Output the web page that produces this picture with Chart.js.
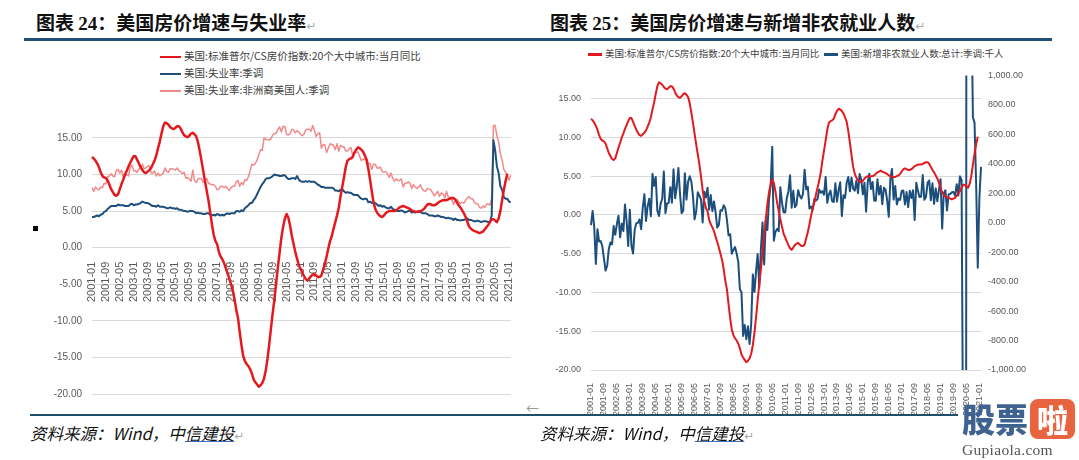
<!DOCTYPE html>
<html>
<head>
<meta charset="utf-8">
<script src="https://cdn.jsdelivr.net/npm/chart.js"></script>
<style>
  body { margin: 0; width: 1079px; height: 460px; background: #fff; position: relative; overflow: hidden; font-family: "Noto Sans CJK SC", sans-serif; }
  .abs { position: absolute; white-space: nowrap; }
  .title { top: 9px; font-size: 19px; font-weight: 700; color: #111; line-height: 26px; }
  .title .n { font-family: "Liberation Serif", serif; }
  .ret { color: #aaa; font-weight: 400; font-size: 12px; font-family: "DejaVu Sans", sans-serif; }
  .rule { position: absolute; }
  .leg { color: #404040; line-height: 14px; }
  .leg i { display: inline-block; height: 2.5px; vertical-align: middle; margin-right: 3px; }
  .src { top: 421px; font-style: italic; font-size: 16.5px; color: #111; line-height: 24px; }
  .src u { text-decoration-color: #4472C4; }
  canvas { position: absolute; }
</style>
</head>
<body>

<div class="abs title" style="left:36px">图表 <span class="n">24</span>：美国房价增速与失业率<span class="ret">↵</span></div>
<div class="abs title" style="left:550px">图表 <span class="n">25</span>：美国房价增速与新增非农就业人数<span class="ret">↵</span></div>
<div class="rule" style="left:24px;top:38px;width:1028px;height:3px;background:#1F4E79"></div>

<div id="leg1"></div>
<div id="leg2"></div>

<div class="abs" style="left:33px;top:226px;width:5px;height:5px;background:#000"></div>

<canvas id="c1" width="530" height="310" style="left:0;top:100px"></canvas>
<canvas id="c2" width="539" height="355" style="left:540px;top:60px"></canvas>

<div class="rule" style="left:30px;top:414px;width:928px;height:2px;background:#1F4E69"></div>
<div class="abs" style="left:526px;top:398px;font-size:13px;color:#999">←</div>

<div class="abs src" style="left:30px">资料来源：Wind，中<u>信建投</u><span class="ret">↵</span></div>
<div class="abs src" style="left:540px">资料来源：Wind，中<u>信建投</u><span class="ret">↵</span></div>

<div class="abs" style="left:962px;top:396px;font-size:33px;font-weight:900;color:#3F6390;line-height:44px">股票</div>
<div class="abs" style="left:1030px;top:399px;width:45px;height:40px;border-radius:8px;background:#E8643F;color:#fff;font-size:31px;font-weight:900;line-height:40px;text-align:center">啦</div>
<div class="abs" style="left:962px;top:441px;font-size:15.5px;color:#555;font-family:'Liberation Serif',serif;letter-spacing:0.3px">Gupiaola.com</div>

<script>
// monthly categories 2001-01 .. 2021-02
const months = [];
for (let y = 2001; y <= 2021; y++) {
  for (let m = 1; m <= 12; m++) {
    if (y === 2021 && m > 2) break;
    months.push(y + '-' + String(m).padStart(2, '0'));
  }
}

// S&P/CS 20-city YoY, %
const csYoy = [
  12.4, 12.2, 11.9, 11.5, 11.0, 10.3, 9.8, 9.6, 9.5, 9.2, 8.6, 8.0,
  7.6, 7.2, 7.1, 7.3, 8.0, 8.7, 9.3, 10.0, 10.5, 11.1, 11.6, 12.1,
  12.5, 12.5, 12.0, 11.5, 11.0, 10.6, 10.3, 10.2, 10.4, 10.6, 10.9, 11.4,
  11.9, 12.6, 13.6, 14.5, 15.6, 16.6, 17.1, 17.0, 16.8, 16.5, 16.3, 16.2,
  16.4, 16.6, 16.6, 16.3, 15.8, 15.4, 15.2, 15.1, 15.3, 15.6, 15.7, 15.5,
  15.2, 14.4, 13.2, 11.9, 10.5, 9.1, 7.8, 6.5, 4.9, 3.2, 1.8, 0.9,
  0.5, -0.6, -1.2, -1.6, -2.1, -2.8, -3.5, -4.2, -5.0, -5.8, -7.0, -8.5,
  -9.6, -11.5, -13.3, -14.8, -15.5, -15.9, -16.2, -16.6, -17.2, -18.0, -18.4, -18.7,
  -19.0, -18.8, -18.5, -17.9, -16.8, -15.2, -13.2, -11.0, -8.9, -7.0, -4.8, -2.6,
  -0.6, 1.4, 2.9, 4.0, 4.6, 4.1, 3.0, 1.6, 0.5, -0.6, -1.5, -2.4,
  -2.9, -3.4, -3.9, -4.3, -4.5, -4.2, -3.9, -3.7, -3.6, -3.8, -4.0, -4.0,
  -3.8, -3.0, -2.2, -1.2, -0.1, 0.9, 1.6, 2.6, 3.5, 4.4, 5.5, 7.0,
  8.3, 9.6, 11.0, 11.9, 12.1, 12.2, 12.4, 13.0, 13.4, 13.7, 13.6, 13.4,
  13.1, 12.6, 12.0, 10.8, 9.3, 7.7, 6.2, 5.3, 4.8, 4.5, 4.3, 4.2,
  4.4, 4.7, 4.9, 5.0, 5.0, 5.0, 5.0, 5.1, 5.3, 5.5, 5.6, 5.7,
  5.6, 5.5, 5.4, 5.3, 5.1, 5.0, 4.9, 4.9, 4.9, 5.0, 5.1, 5.3,
  5.6, 5.9, 6.0, 5.9, 5.8, 5.8, 5.9, 6.1, 6.3, 6.4, 6.5, 6.5,
  6.5, 6.6, 6.7, 6.8, 6.8, 6.6, 6.2, 5.8, 5.5, 5.1, 4.7, 4.2,
  3.5, 2.9, 2.6, 2.4, 2.3, 2.2, 2.1, 2.0, 2.1, 2.2, 2.5, 2.8,
  3.1, 3.5, 3.9, 3.9, 3.7, 3.5, 4.0, 5.0, 6.5, 7.9, 9.1, 10.1,
  null, null
];

// unemployment rate, SA, %
const unrate = [
  4.2, 4.2, 4.3, 4.4, 4.3, 4.5, 4.6, 4.9, 5.0, 5.3, 5.5, 5.7,
  5.7, 5.7, 5.7, 5.9, 5.8, 5.8, 5.8, 5.7, 5.7, 5.7, 5.9, 6.0,
  5.8, 5.9, 5.9, 6.0, 6.1, 6.3, 6.2, 6.1, 6.1, 6.0, 5.8, 5.7,
  5.7, 5.6, 5.8, 5.6, 5.6, 5.6, 5.5, 5.4, 5.4, 5.5, 5.4, 5.4,
  5.3, 5.4, 5.2, 5.2, 5.1, 5.0, 5.0, 4.9, 5.0, 5.0, 5.0, 4.9,
  4.7, 4.8, 4.7, 4.7, 4.6, 4.6, 4.7, 4.7, 4.5, 4.4, 4.5, 4.4,
  4.6, 4.5, 4.4, 4.5, 4.4, 4.6, 4.7, 4.6, 4.7, 4.7, 4.7, 5.0,
  5.0, 4.9, 5.1, 5.0, 5.4, 5.6, 5.8, 6.1, 6.1, 6.5, 6.8, 7.3,
  7.8, 8.3, 8.7, 9.0, 9.4, 9.5, 9.5, 9.6, 9.8, 10.0, 9.9, 9.9,
  9.8, 9.8, 9.9, 9.9, 9.6, 9.4, 9.4, 9.5, 9.5, 9.4, 9.8, 9.3,
  9.1, 9.0, 9.0, 9.1, 9.0, 9.1, 9.0, 9.0, 9.0, 8.8, 8.6, 8.5,
  8.3, 8.3, 8.2, 8.2, 8.2, 8.2, 8.2, 8.1, 7.8, 7.8, 7.7, 7.9,
  8.0, 7.7, 7.5, 7.6, 7.5, 7.5, 7.3, 7.2, 7.2, 7.2, 6.9, 6.7,
  6.6, 6.7, 6.7, 6.2, 6.3, 6.1, 6.2, 6.1, 5.9, 5.7, 5.8, 5.6,
  5.7, 5.5, 5.4, 5.4, 5.6, 5.3, 5.2, 5.1, 5.0, 5.0, 5.1, 5.0,
  4.8, 4.9, 5.0, 5.1, 4.8, 4.9, 4.8, 4.9, 5.0, 4.9, 4.7, 4.7,
  4.7, 4.6, 4.4, 4.4, 4.4, 4.3, 4.3, 4.4, 4.3, 4.2, 4.2, 4.1,
  4.0, 4.1, 4.0, 4.0, 3.8, 4.0, 3.8, 3.8, 3.7, 3.8, 3.8, 3.9,
  4.0, 3.8, 3.8, 3.7, 3.6, 3.6, 3.7, 3.6, 3.5, 3.6, 3.6, 3.6,
  3.5, 3.5, 4.4, 14.7, 13.3, 11.1, 10.2, 8.4, 7.9, 6.9, 6.7, 6.7,
  6.3, 6.2
];

// unemployment rate, Black or African American, SA, %
const unrateBlack = [
  8.2, 7.7, 8.3, 8.0, 7.9, 8.3, 8.2, 8.8, 8.7, 9.7, 9.8, 10.1,
  9.8, 9.7, 10.6, 10.7, 10.2, 10.6, 9.7, 9.8, 10.0, 9.8, 11.0, 11.3,
  10.5, 10.5, 10.3, 10.8, 10.9, 11.4, 10.8, 10.9, 11.1, 11.2, 10.2, 10.2,
  10.5, 9.8, 10.2, 9.8, 10.0, 10.2, 10.9, 10.4, 10.3, 10.8, 10.8, 10.7,
  10.6, 10.9, 10.5, 10.4, 10.1, 10.3, 9.5, 9.6, 9.4, 9.1, 10.6, 9.2,
  8.9, 9.4, 9.5, 9.4, 8.9, 9.0, 9.5, 8.8, 8.7, 8.6, 8.6, 8.4,
  7.9, 8.0, 8.4, 8.4, 8.2, 8.4, 8.1, 7.8, 8.2, 8.4, 8.4, 9.0,
  9.2, 8.4, 8.9, 8.6, 9.3, 9.2, 9.7, 10.5, 11.4, 11.3, 11.5, 12.0,
  12.7, 13.4, 13.3, 15.0, 14.8, 14.8, 14.7, 14.9, 15.4, 15.6, 15.6, 16.2,
  16.5, 15.8, 16.6, 16.5, 15.5, 15.4, 15.6, 16.2, 16.1, 15.7, 16.0, 15.8,
  15.5, 15.3, 15.5, 16.1, 16.2, 16.2, 15.9, 16.7, 16.0, 15.2, 15.6, 15.7,
  13.6, 14.1, 14.0, 13.0, 13.6, 14.2, 14.1, 14.0, 13.4, 14.2, 13.2, 14.0,
  13.8, 13.8, 13.2, 13.2, 13.5, 13.7, 12.6, 13.0, 13.0, 13.1, 12.5, 11.9,
  12.1, 12.0, 12.3, 11.5, 11.5, 10.7, 11.4, 11.4, 10.9, 10.9, 11.0, 10.4,
  10.3, 10.4, 10.1, 9.6, 10.2, 9.5, 9.1, 9.4, 9.2, 9.2, 9.4, 8.3,
  8.8, 8.8, 9.0, 8.8, 8.1, 8.6, 8.3, 8.1, 8.3, 8.6, 8.0, 7.8,
  7.7, 8.1, 8.0, 7.9, 7.5, 7.1, 7.4, 7.7, 7.0, 7.5, 7.3, 6.8,
  7.7, 6.9, 6.9, 6.6, 5.9, 6.5, 6.6, 6.3, 6.0, 6.2, 6.1, 6.5,
  6.8, 7.0, 6.7, 6.7, 6.2, 6.0, 6.0, 5.5, 5.4, 5.7, 5.5, 5.9,
  6.0, 5.8, 6.7, 16.7, 16.7, 15.3, 14.5, 12.8, 12.0, 10.7, 10.3, 9.9,
  9.2, 9.9
];

// nonfarm payrolls change, SA, thousands
const nfp = [
  -16, 80, -30, -280, -44, -128, -125, -160, -244, -325, -292, -178,
  -134, -146, -23, -82, -8, 47, -99, -5, -57, 123, 12, -158,
  88, -156, -210, -47, -4, -1, 23, -44, 106, 194, 12, 112,
  162, 44, 332, 250, 310, 81, 45, 128, 161, 348, 65, 131,
  135, 241, 136, 363, 166, 244, 372, 196, 65, 82, 336, 157,
  277, 315, 280, 182, 23, 77, 207, 184, 157, 2, 210, 171,
  238, 88, 188, 78, 144, 71, -33, -16, 85, 82, 118, 97,
  19, -86, -78, -210, -185, -165, -209, -266, -452, -473, -769, -695,
  -791, -703, -823, -686, -351, -470, -329, -212, -438, -178, 2, -283,
  18, -50, 156, 251, 516, -122, -61, -42, -57, 241, 137, 71,
  70, 168, 212, 322, 102, 217, 106, 122, 221, 183, 164, 196,
  360, 226, 243, 96, 110, 88, 160, 150, 161, 225, 203, 214,
  190, 311, 135, 192, 218, 146, 140, 268, 143, 223, 275, 45,
  187, 168, 272, 310, 213, 306, 232, 218, 286, 200, 331, 292,
  192, 271, 74, 275, 332, 228, 277, 150, 149, 295, 192, 249,
  126, 237, 225, 153, 40, 297, 365, 157, 249, 124, 164, 155,
  216, 219, 124, 208, 106, 217, 167, 220, 18, 271, 216, 175,
  176, 324, 155, 175, 272, 286, 153, 268, 128, 233, 145, 223,
  295, -40, 201, 220, 83, 193, 194, 207, 208, 185, 261, 184,
  315, 289, -1683, -20679, 2833, 4846, 1726, 1583, 716, 680, 264, -306,
  166, 379
];

const NAME_CS = '美国:标准普尔/CS房价指数:20个大中城市:当月同比';
const NAME_UR = '美国:失业率:季调';
const NAME_URB = '美国:失业率:非洲裔美国人:季调';
const NAME_NFP = '美国:新增非农就业人数:总计:季调:千人';

const RED = '#E3191E';
const BLUE = '#1D4F7C';
const PINK = '#F2898B';
const GRID = '#D9D9D9';
const TICK = '#595959';

// legends
function legItem(color, text, w) {
  return '<span><i style="background:' + color + ';width:' + w + 'px"></i>' + text + '</span>';
}
const leg1 = document.getElementById('leg1');
[[RED, NAME_CS], [BLUE, NAME_UR], [PINK, NAME_URB]].forEach((it, i) => {
  const d = document.createElement('div');
  d.className = 'abs leg';
  d.style.cssText = 'left:160px;top:' + (49 + i * 16.8) + 'px;font-size:10.5px';
  d.innerHTML = legItem(it[0], it[1], 21);
  leg1.appendChild(d);
});
const leg2 = document.getElementById('leg2');
[[RED, NAME_CS, 588], [BLUE, NAME_NFP, 824]].forEach(it => {
  const d = document.createElement('div');
  d.className = 'abs leg';
  d.style.cssText = 'left:' + it[2] + 'px;top:46px;font-size:9.5px';
  d.innerHTML = legItem(it[0], it[1], 14);
  leg2.appendChild(d);
});

const every8 = function (v, i) { return i % 8 === 0 ? this.getLabelForValue(v) : ''; };
const fix2 = v => v.toFixed(2);

new Chart(document.getElementById('c1'), {
  type: 'line',
  data: {
    labels: months,
    datasets: [
      { label: NAME_CS, data: csYoy, borderColor: RED, borderWidth: 2.5 },
      { label: NAME_UR, data: unrate, borderColor: BLUE, borderWidth: 2 },
      { label: NAME_URB, data: unrateBlack, borderColor: PINK, borderWidth: 1.5 }
    ]
  },
  options: {
    responsive: false,
    animation: false,
    devicePixelRatio: 1,
    elements: { point: { radius: 0 }, line: { tension: 0, borderJoinStyle: 'round' } },
    layout: { padding: { top: 9, right: 14, bottom: 8, left: 0 } },
    plugins: { legend: { display: false }, tooltip: { enabled: false } },
    scales: {
      x: {
        position: { y: 0 },
        grid: { display: false },
        border: { display: false },
        ticks: {
          autoSkip: false, minRotation: 90, maxRotation: 90, padding: 6,
          color: TICK, font: { size: 11, family: 'Liberation Sans' },
          callback: every8
        },
        afterFit: s => { s.height = 0; }
      },
      y: {
        min: -20, max: 18,
        grid: { color: GRID, drawTicks: false },
        border: { display: false },
        ticks: {
          stepSize: 5, includeBounds: false, padding: 10,
          color: TICK, font: { size: 10, family: 'Liberation Sans' },
          callback: fix2
        },
        afterFit: s => { s.width = 92; }
      }
    }
  }
});

new Chart(document.getElementById('c2'), {
  type: 'line',
  data: {
    labels: months,
    datasets: [
      { label: NAME_CS, data: csYoy, borderColor: RED, borderWidth: 2, yAxisID: 'y' },
      { label: NAME_NFP, data: nfp, borderColor: BLUE, borderWidth: 2, yAxisID: 'y2' }
    ]
  },
  options: {
    responsive: false,
    animation: false,
    devicePixelRatio: 1,
    elements: { point: { radius: 0 }, line: { tension: 0, borderJoinStyle: 'round' } },
    layout: { padding: { top: 12, right: 0, bottom: 0, left: 0 } },
    plugins: { legend: { display: false }, tooltip: { enabled: false } },
    scales: {
      x: {
        position: 'bottom',
        grid: { display: false },
        border: { display: false },
        ticks: {
          autoSkip: false, minRotation: 90, maxRotation: 90, padding: 5,
          color: TICK, font: { size: 9, family: 'Liberation Sans' },
          callback: every8
        },
        afterFit: s => { s.height = 45; }
      },
      y: {
        position: 'left',
        min: -20, max: 18,
        grid: { color: GRID, drawTicks: false },
        border: { display: false },
        ticks: {
          stepSize: 5, includeBounds: false, padding: 10,
          color: TICK, font: { size: 9, family: 'Liberation Sans' },
          callback: fix2
        },
        afterFit: s => { s.width = 51; }
      },
      y2: {
        position: 'right',
        min: -1000, max: 1000,
        grid: { display: false, drawTicks: false },
        border: { display: false },
        ticks: {
          stepSize: 200, padding: 7,
          color: TICK, font: { size: 9, family: 'Liberation Sans' },
          callback: v => v.toLocaleString('en-US', { minimumFractionDigits: 2, maximumFractionDigits: 2 })
        },
        afterFit: s => { s.width = 98; }
      }
    }
  }
});
</script>
</body>
</html>
